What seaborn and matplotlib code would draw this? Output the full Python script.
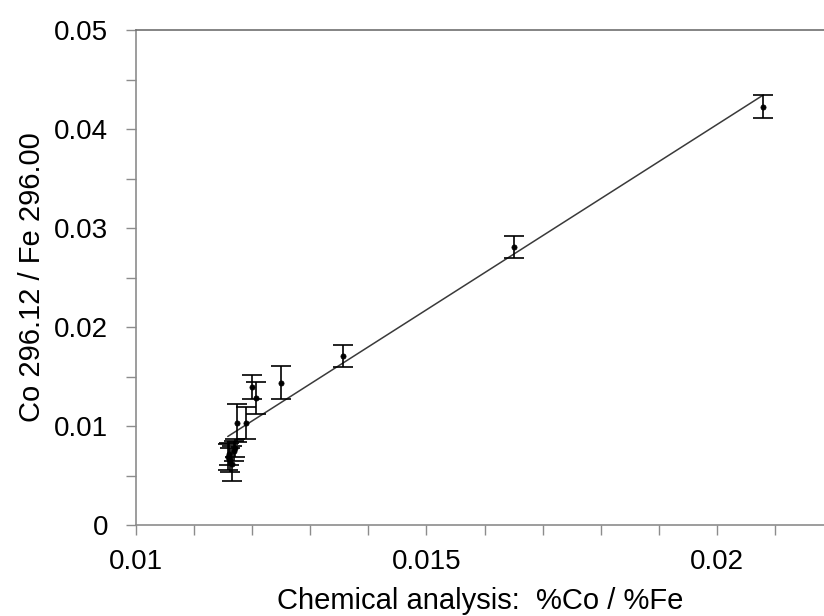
import numpy as np
import pandas as pd
import matplotlib
matplotlib.use("Agg")
import matplotlib.pyplot as plt
from matplotlib.ticker import MultipleLocator
import seaborn as sns

# Chemical analysis (%Co / %Fe) vs. intensity ratio Co 296.12 / Fe 296.00
chem_ratio = [0.01158, 0.01160, 0.01162, 0.01165, 0.01168, 0.01171,
              0.011744, 0.011893, 0.01199, 0.01207, 0.0125, 0.013557,
              0.0165, 0.0208]
line_ratio = [0.0069, 0.0072, 0.0066, 0.0062, 0.0075, 0.0078,
              0.01033, 0.01033, 0.01391, 0.01286, 0.01438, 0.0171,
              0.0281, 0.04225]
line_err = [0.0013, 0.0011, 0.0012, 0.0018, 0.0010, 0.0009,
            0.0019, 0.0016, 0.0012, 0.0016, 0.00165, 0.0011,
            0.0011, 0.00115]

# trendline coefficients
slope = 3.742
intercept = -0.03439

df = pd.DataFrame({"chem": chem_ratio, "ratio": line_ratio, "err": line_err})
trend = pd.DataFrame({"chem": [df.chem.min(), df.chem.max()]})
trend["ratio"] = slope * trend.chem + intercept

sns.set_theme(style="white")
plt.rcParams["font.family"] = ["Liberation Sans", "DejaVu Sans"]

fig = plt.figure(figsize=(8.24, 6.16), dpi=100)
ax = fig.add_axes([0.165, 0.1477, 0.835, 0.8036])

sns.lineplot(data=trend, x="chem", y="ratio", ax=ax, color="#3a3a3a", lw=1.1)
ax.errorbar(df.chem, df.ratio, yerr=df.err, fmt="none", ecolor="black",
            elinewidth=1.2, capsize=7.5, capthick=1.2)
sns.scatterplot(data=df, x="chem", y="ratio", ax=ax, color="black", s=14,
                edgecolor="black", linewidth=0.5, zorder=5)

ax.set_xlim(0.01, 0.021842)
ax.set_ylim(0, 0.05)
ax.xaxis.set_major_locator(MultipleLocator(0.005))
ax.xaxis.set_minor_locator(MultipleLocator(0.001))
ax.yaxis.set_major_locator(MultipleLocator(0.01))
ax.yaxis.set_minor_locator(MultipleLocator(0.005))
ax.set_xticks([0.01, 0.015, 0.02])
ax.set_xticklabels(["0.01", "0.015", "0.02"])
ax.set_yticks([0, 0.01, 0.02, 0.03, 0.04, 0.05])
ax.set_yticklabels(["0", "0.01", "0.02", "0.03", "0.04", "0.05"])

for s in ["left", "bottom", "top"]:
    ax.spines[s].set_visible(True)
    ax.spines[s].set_color("#8c8c8c")
    ax.spines[s].set_linewidth(1.2)
ax.spines["top"].set_color("#707070")
ax.spines["right"].set_visible(False)

ax.tick_params(which="both", direction="out", length=7, width=1,
               color="#8c8c8c", bottom=True, left=True, top=False, right=False)
ax.tick_params(axis="x", which="major", labelsize=20, pad=10, labelcolor="black")
ax.tick_params(axis="y", which="major", labelsize=20, pad=13, labelcolor="black")

ax.set_xlabel("Chemical analysis:  %Co / %Fe", fontsize=21, color="black", labelpad=9)
ax.set_ylabel("Co 296.12 / Fe 296.00", fontsize=21, color="black", labelpad=6)

fig.savefig("out.png", dpi=100)
